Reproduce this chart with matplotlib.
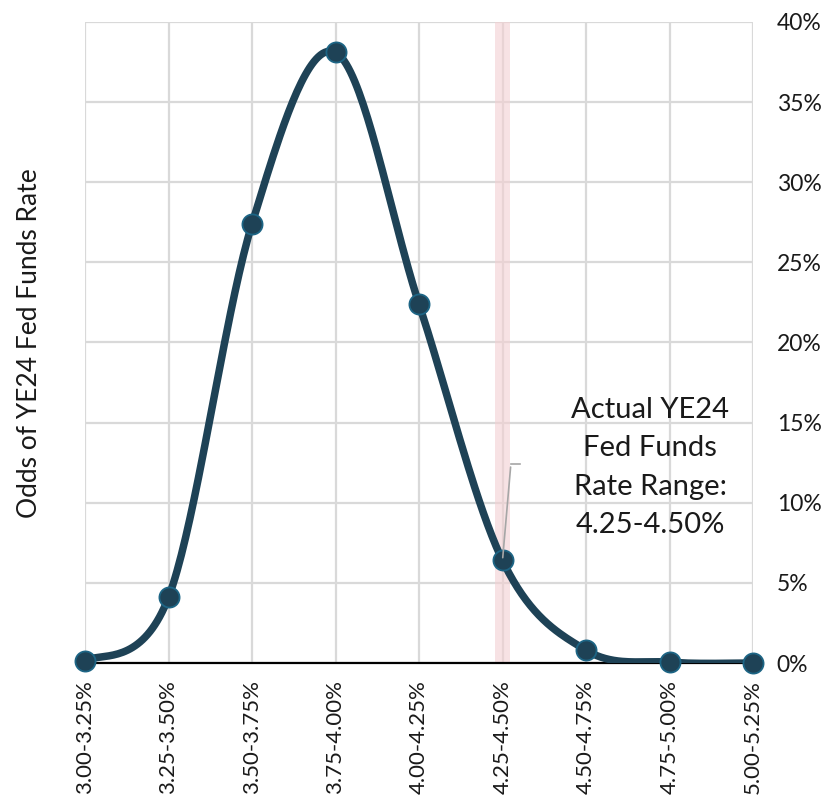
import numpy as np
import matplotlib
matplotlib.use("Agg")
import matplotlib.pyplot as plt

plt.rcParams['font.family'] = ['Lato', 'DejaVu Sans']

# Fed funds target ranges and implied odds (%) for year-end 2024
ranges = ["3.00-3.25%", "3.25-3.50%", "3.50-3.75%", "3.75-4.00%", "4.00-4.25%",
          "4.25-4.50%", "4.50-4.75%", "4.75-5.00%", "5.00-5.25%"]
odds = [0.1, 4.1, 27.4, 38.1, 22.4, 6.4, 0.8, 0.05, 0.0]
actual_range = "4.25-4.50%"
note_text = "Actual YE24\nFed Funds\nRate Range:\n4.25-4.50%"


def smooth(xs, ys, n=40):
    """Bezier smoothing through every point (ends use a repeated point)."""
    xs = np.asarray(xs, float)
    ys = np.asarray(ys, float)
    px = np.concatenate([[xs[0]], xs, [xs[-1]]])
    py = np.concatenate([[ys[0]], ys, [ys[-1]]])
    outx, outy = [], []
    for i in range(1, len(px) - 2):
        p0, p1, p2, p3 = (np.array([px[j], py[j]]) for j in range(i - 1, i + 3))
        c1 = p1 + (p2 - p0) / 6
        c2 = p2 - (p3 - p1) / 6
        t = np.linspace(0, 1, n)[:, None]
        pts = ((1 - t) ** 3) * p1 + 3 * ((1 - t) ** 2) * t * c1 + 3 * (1 - t) * t ** 2 * c2 + t ** 3 * p2
        outx.extend(pts[:, 0])
        outy.extend(pts[:, 1])
    return np.array(outx), np.array(outy)


fig = plt.figure(figsize=(8.24, 7.96), dpi=100)
ax = fig.add_axes([85 / 824, 1 - 663 / 796, (753 - 85) / 824, (663 - 22) / 796])

x = np.arange(len(ranges))
sx, sy = smooth(x, odds)

# highlight band for the realised range
xa = ranges.index(actual_range)
ax.axvspan(xa - 0.085, xa + 0.085, color="#f3d0d2", alpha=0.6, lw=0, zorder=1)

ax.plot(sx, sy, color="#1e4256", lw=5.4, solid_capstyle="round", zorder=3)
ax.plot(x, odds, "o", ms=14.5, color="#1e4256", mec="#1d6585", mew=1.3, zorder=4,
        clip_on=False)

ax.set_xlim(0, len(ranges) - 1)
ax.set_ylim(0, 40)
ax.set_yticks(np.arange(0, 41, 5))
ax.set_yticklabels([f"{v}%" for v in range(0, 41, 5)])
ax.set_xticks(x)
ax.set_xticklabels(ranges, rotation=90, va="top", ha="center")

ax.grid(True, color="#d9d9d9", lw=1.6, zorder=0)
ax.set_axisbelow(True)
for side in ("top", "left", "right"):
    ax.spines[side].set_visible(False)
ax.spines["bottom"].set_color("black")
ax.spines["bottom"].set_linewidth(1.6)
ax.spines["bottom"].set_zorder(2)

ax.yaxis.tick_right()
ax.tick_params(axis="both", length=0, colors="#1a1a1a")
ax.tick_params(axis="x", labelsize=16, pad=12)
ax.tick_params(axis="y", labelsize=16.5, pad=17)

fig.text(30 / 824, 1 - 343 / 796, "Odds of YE24 Fed Funds Rate", rotation=90,
         va="center", ha="center", fontsize=19, color="#1a1a1a")

# callout leader from the realised point to the note
ax.annotate("", xy=(xa, odds[xa]), xytext=(xa + 0.1, 12.4),
            arrowprops=dict(arrowstyle="-", color="#a6a6a6", lw=1.2), zorder=5)
ax.plot([xa + 0.1, xa + 0.21], [12.4, 12.4], color="#a6a6a6", lw=1.2, zorder=5)
ax.text(xa + 1.77, 12.2, note_text, ha="center", va="center", fontsize=21,
        color="#1a1a1a", linespacing=1.6, zorder=6)

fig.savefig("out.png", dpi=100)
